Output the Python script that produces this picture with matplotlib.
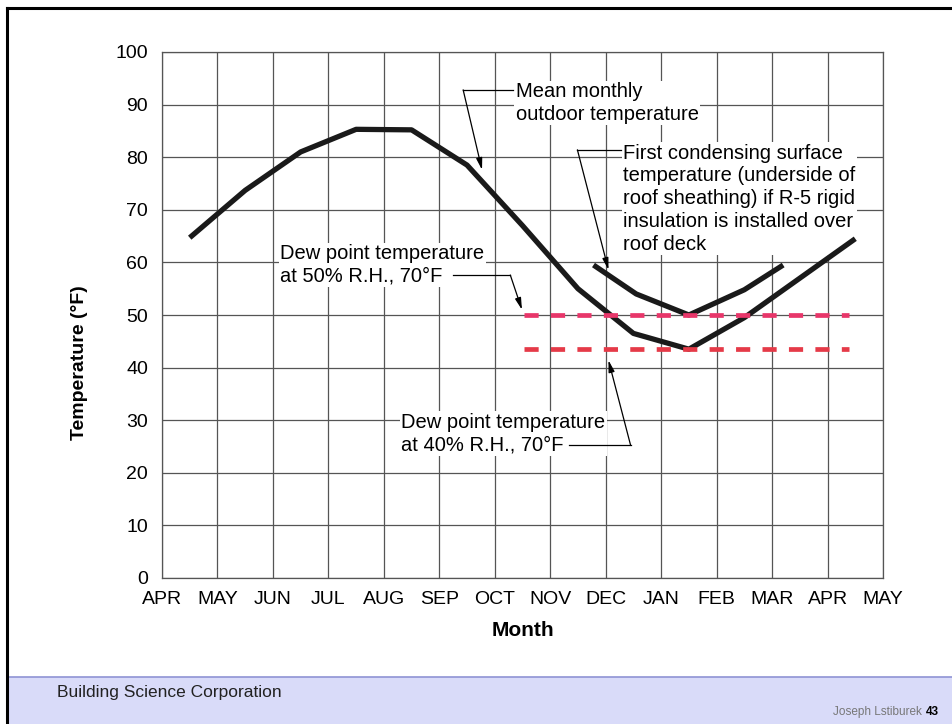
import matplotlib
matplotlib.use('Agg')
import matplotlib.pyplot as plt
from matplotlib.patches import Rectangle
from matplotlib.lines import Line2D

plt.rcParams['font.family'] = ['Liberation Sans', 'DejaVu Sans']

# month labels along the x axis (one per grid line)
months = ['APR', 'MAY', 'JUN', 'JUL', 'AUG', 'SEP', 'OCT', 'NOV', 'DEC', 'JAN',
          'FEB', 'MAR', 'APR', 'MAY']

# mean monthly outdoor temperature (mid-month points)
outdoor_x = [0.5, 1.5, 2.5, 3.5, 4.5, 5.5, 6.5, 7.5, 8.5, 9.5, 10.5, 11.5, 12.5]
outdoor_t = [64.7, 73.7, 81.0, 85.3, 85.2, 78.5, 67.0, 55.0, 46.5, 43.5, 49.5, 57.0, 64.5]

# first condensing surface temperature with R-5 over deck
cond_x = [7.78, 8.55, 9.5, 10.5, 11.2]
cond_t = [59.5, 54.0, 50.0, 54.8, 59.5]

# dew point lines
dew_x = [6.53, 12.39]
dew50 = 50.0
dew40 = 43.5

fig = plt.figure(figsize=(9.53, 7.24), dpi=100)
ax = fig.add_axes([162/953, 1 - 578/724, (883-162)/953, (578-52)/724])

ax.set_xlim(0, 13)
ax.set_ylim(0, 100)
ax.set_xticks(range(len(months)))
ax.set_xticklabels(months)
ax.set_yticks(range(0, 101, 10))
ax.tick_params(length=0, labelsize=14)
ax.tick_params(axis='y', pad=10)
ax.tick_params(axis='x', pad=9)
ax.grid(True, color='#555555', lw=0.9)
ax.set_axisbelow(True)
for s in ax.spines.values():
    s.set_color('#555555')
    s.set_linewidth(0.9)

ax.set_xlabel('Month', fontsize=15, fontweight='bold', labelpad=10)
ax.set_ylabel('Temperature (\u00b0F)', fontsize=14, fontweight='bold')
ax.yaxis.set_label_coords(-0.102, 0.41)

ax.plot(outdoor_x, outdoor_t, color='#1a1a1a', lw=3.8, solid_capstyle='butt', zorder=6)
ax.plot(cond_x, cond_t, color='#1a1a1a', lw=3.8, solid_capstyle='butt', zorder=6)
ax.plot(dew_x, [dew50, dew50], color='#e8366a', lw=3.4, dashes=(3.0, 2.6), zorder=7)
ax.plot(dew_x, [dew40, dew40], color='#e53a48', lw=3.4, dashes=(3.0, 2.6), zorder=7)

box = dict(facecolor='white', edgecolor='none', pad=1)
tkw = dict(fontsize=14.5, va='top', ha='left', linespacing=1.25, bbox=box, zorder=5)
akw = dict(arrowstyle='-|>,head_length=0.7,head_width=0.18', color='black', lw=0.9,
           shrinkA=0, shrinkB=0)

ax.text(6.38, 94.3, 'Mean monthly\noutdoor temperature', **tkw)
ax.plot([5.43, 6.33], [92.8, 92.8], color='black', lw=0.9, zorder=8)
ax.annotate('', xy=(5.77, 77.6), xytext=(5.43, 92.8), arrowprops=akw, zorder=8)

ax.text(8.32, 82.6, 'First condensing surface\ntemperature (underside of\n'
        'roof sheathing) if R-5 rigid\ninsulation is installed over\nroof deck', **tkw)
ax.plot([7.49, 8.28], [81.4, 81.4], color='black', lw=0.9, zorder=8)
ax.annotate('', xy=(8.05, 58.6), xytext=(7.49, 81.4), arrowprops=akw, zorder=8)

ax.text(2.13, 63.5, 'Dew point temperature\nat 50% R.H., 70\u00b0F', **tkw)
ax.plot([5.25, 6.28], [57.6, 57.6], color='black', lw=0.9, zorder=8)
ax.annotate('', xy=(6.49, 51.0), xytext=(6.28, 57.6), arrowprops=akw, zorder=8)

ax.text(4.31, 31.4, 'Dew point temperature\nat 40% R.H., 70\u00b0F', **tkw)
ax.plot([7.33, 8.45], [25.2, 25.2], color='black', lw=0.9, zorder=8)
ax.annotate('', xy=(8.05, 41.4), xytext=(8.45, 25.2), arrowprops=akw, zorder=8)

# slide footer and frame
fig.patches.append(Rectangle((8/953, 0), 1, 47/724, transform=fig.transFigure,
                             facecolor='#d9dbf9', edgecolor='none', zorder=0))
fig.add_artist(Line2D([8/953, 1], [47/724, 47/724], color='#8f93d4', lw=1.2))
fig.add_artist(Line2D([7/953, 1], [1 - 8/724, 1 - 8/724], color='black', lw=2.2))
fig.add_artist(Line2D([7/953, 7/953], [0, 1 - 8/724], color='black', lw=2.2))
fig.text(57/953, 1 - 693/724, 'Building Science Corporation', fontsize=12.5,
         va='center', ha='left', color='#222222')
fig.text(922/953, 1 - 712/724, 'Joseph Lstiburek', fontsize=8.5, va='center',
         ha='right', color='#777777')
fig.text(926/953, 1 - 712/724, '43', fontsize=8.5, va='center', ha='left',
         fontweight='bold', color='black')

fig.savefig('out.png', dpi=100)
